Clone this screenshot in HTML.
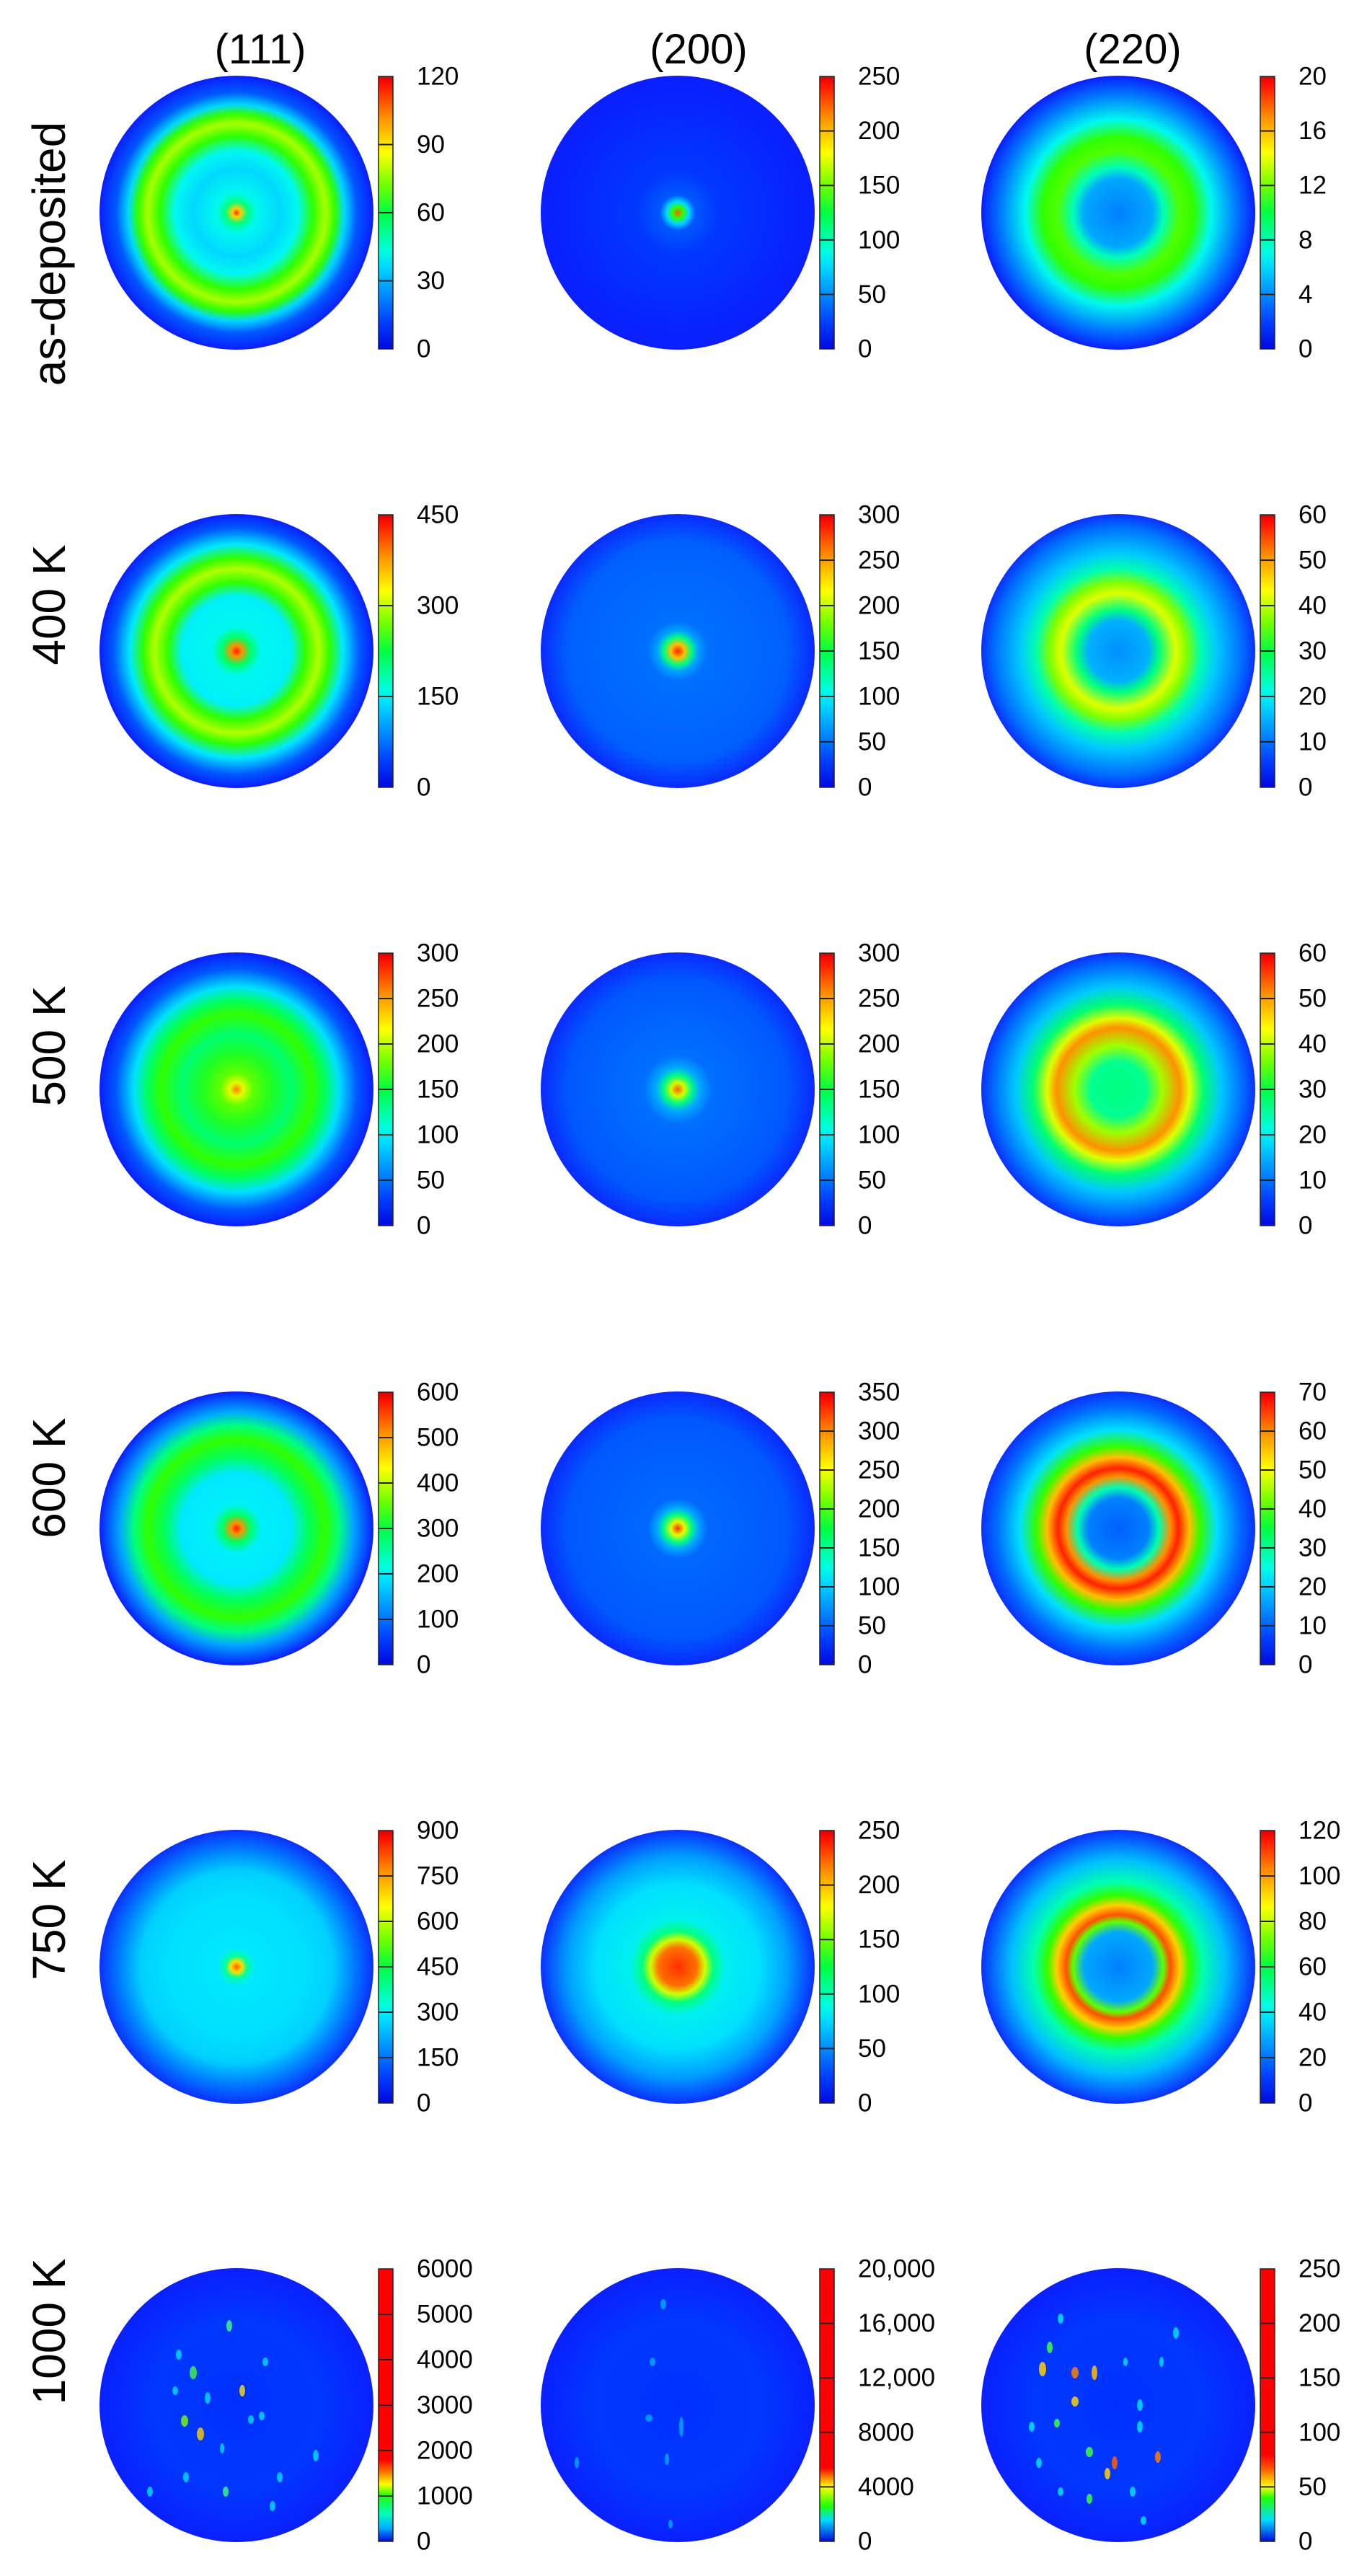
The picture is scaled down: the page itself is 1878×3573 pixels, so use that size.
<!DOCTYPE html>
<html><head><meta charset="utf-8"><style>
html,body{margin:0;padding:0;background:#fff}
svg{display:block}
text{font-family:"Liberation Sans",Arial,sans-serif;fill:#000}
.t{font-size:58px;text-anchor:middle}
.r{font-size:64px;text-anchor:middle;dominant-baseline:central}
.l{font-size:35px;dominant-baseline:central}
.bar{stroke:#222;stroke-width:1.5}
.tk{stroke:#222;stroke-width:2}
</style></head><body>
<svg width="1878" height="3573" viewBox="0 0 1878 3573" xmlns="http://www.w3.org/2000/svg">
<defs>
<linearGradient id="cb" x1="0" y1="1" x2="0" y2="0">
<stop offset="0" stop-color="#0008e0"/><stop offset="0.1" stop-color="#0040ff"/><stop offset="0.3" stop-color="#00d8ff"/><stop offset="0.36" stop-color="#00ffe0"/><stop offset="0.5" stop-color="#00ff40"/><stop offset="0.6" stop-color="#70ff00"/><stop offset="0.72" stop-color="#ffff00"/><stop offset="0.85" stop-color="#ff9000"/><stop offset="0.97" stop-color="#ff1000"/><stop offset="1" stop-color="#e00000"/>
</linearGradient>
<linearGradient id="cb61" x1="0" y1="1" x2="0" y2="0">
<stop offset="0" stop-color="#0008e0"/><stop offset="0.05" stop-color="#00b0ff"/><stop offset="0.1" stop-color="#00ffc0"/><stop offset="0.17" stop-color="#20ff00"/><stop offset="0.21" stop-color="#ffff00"/><stop offset="0.25" stop-color="#ff8000"/><stop offset="0.3" stop-color="#ff0000"/><stop offset="1" stop-color="#ff0000"/>
</linearGradient>
<linearGradient id="cb62" x1="0" y1="1" x2="0" y2="0">
<stop offset="0" stop-color="#0008e0"/><stop offset="0.08" stop-color="#00e0ff"/><stop offset="0.13" stop-color="#20ff00"/><stop offset="0.2" stop-color="#ffff00"/><stop offset="0.27" stop-color="#ff0000"/><stop offset="1" stop-color="#ff0000"/>
</linearGradient>
<linearGradient id="cb63" x1="0" y1="1" x2="0" y2="0">
<stop offset="0" stop-color="#0008e0"/><stop offset="0.08" stop-color="#00e0ff"/><stop offset="0.16" stop-color="#20ff00"/><stop offset="0.2" stop-color="#ffff00"/><stop offset="0.27" stop-color="#ff5000"/><stop offset="0.32" stop-color="#ff0000"/><stop offset="1" stop-color="#ff0000"/>
</linearGradient>

<radialGradient id="g11"><stop offset="0" stop-color="#ff3000"/><stop offset="0.03" stop-color="#ffd000"/><stop offset="0.08" stop-color="#00ff80"/><stop offset="0.15" stop-color="#00f8f0"/><stop offset="0.32" stop-color="#00d8ff"/><stop offset="0.45" stop-color="#00f8f0"/><stop offset="0.56" stop-color="#30ff00"/><stop offset="0.65" stop-color="#a8ff00"/><stop offset="0.72" stop-color="#30ff00"/><stop offset="0.79" stop-color="#00d8ff"/><stop offset="0.88" stop-color="#0058ff"/><stop offset="1" stop-color="#0a1eff"/></radialGradient>
<radialGradient id="g12"><stop offset="0" stop-color="#ff6000"/><stop offset="0.04" stop-color="#30ff00"/><stop offset="0.08" stop-color="#00d8ff"/><stop offset="0.13" stop-color="#0058ff"/><stop offset="0.3" stop-color="#0038ff"/><stop offset="1" stop-color="#0a1eff"/></radialGradient>
<radialGradient id="g13"><stop offset="0" stop-color="#0080ff"/><stop offset="0.25" stop-color="#00a8ff"/><stop offset="0.33" stop-color="#00ffb8"/><stop offset="0.45" stop-color="#50ff00"/><stop offset="0.55" stop-color="#30ff00"/><stop offset="0.68" stop-color="#00f8f0"/><stop offset="0.85" stop-color="#0080ff"/><stop offset="1" stop-color="#0a1eff"/></radialGradient>

<radialGradient id="g21"><stop offset="0" stop-color="#ff2000"/><stop offset="0.04" stop-color="#ff9000"/><stop offset="0.1" stop-color="#00ff60"/><stop offset="0.18" stop-color="#00f8f0"/><stop offset="0.4" stop-color="#00f0f8"/><stop offset="0.5" stop-color="#30ff00"/><stop offset="0.6" stop-color="#b0ff00"/><stop offset="0.68" stop-color="#30ff00"/><stop offset="0.78" stop-color="#00e8ff"/><stop offset="0.9" stop-color="#0058ff"/><stop offset="1" stop-color="#0a1eff"/></radialGradient>
<radialGradient id="g22"><stop offset="0" stop-color="#ff2000"/><stop offset="0.05" stop-color="#ffc000"/><stop offset="0.1" stop-color="#00ff80"/><stop offset="0.15" stop-color="#00a0ff"/><stop offset="0.22" stop-color="#0070ff"/><stop offset="0.8" stop-color="#0060ff"/><stop offset="1" stop-color="#0a2aff"/></radialGradient>
<radialGradient id="g23"><stop offset="0" stop-color="#0090ff"/><stop offset="0.22" stop-color="#00b0ff"/><stop offset="0.3" stop-color="#00ff80"/><stop offset="0.42" stop-color="#e0ff00"/><stop offset="0.5" stop-color="#80ff00"/><stop offset="0.6" stop-color="#00ffb0"/><stop offset="0.72" stop-color="#00c8ff"/><stop offset="0.9" stop-color="#0070ff"/><stop offset="1" stop-color="#0a30ff"/></radialGradient>

<radialGradient id="g31"><stop offset="0" stop-color="#ff8000"/><stop offset="0.05" stop-color="#e0ff00"/><stop offset="0.12" stop-color="#60ff00"/><stop offset="0.25" stop-color="#20ff20"/><stop offset="0.4" stop-color="#00ff70"/><stop offset="0.55" stop-color="#30ff00"/><stop offset="0.65" stop-color="#00ff60"/><stop offset="0.75" stop-color="#00e0ff"/><stop offset="0.88" stop-color="#0058ff"/><stop offset="1" stop-color="#0a1eff"/></radialGradient>
<radialGradient id="g32"><stop offset="0" stop-color="#ff6000"/><stop offset="0.05" stop-color="#d0ff00"/><stop offset="0.1" stop-color="#00ff80"/><stop offset="0.16" stop-color="#00a8ff"/><stop offset="0.25" stop-color="#0070ff"/><stop offset="0.8" stop-color="#0058ff"/><stop offset="1" stop-color="#0a2aff"/></radialGradient>
<radialGradient id="g33"><stop offset="0" stop-color="#00ff80"/><stop offset="0.2" stop-color="#00ff90"/><stop offset="0.32" stop-color="#a0ff00"/><stop offset="0.45" stop-color="#ff9000"/><stop offset="0.52" stop-color="#e0ff00"/><stop offset="0.62" stop-color="#00ff70"/><stop offset="0.75" stop-color="#00c8ff"/><stop offset="0.9" stop-color="#0070ff"/><stop offset="1" stop-color="#0a30ff"/></radialGradient>

<radialGradient id="g41"><stop offset="0" stop-color="#ff2000"/><stop offset="0.04" stop-color="#ff9000"/><stop offset="0.1" stop-color="#00ff60"/><stop offset="0.18" stop-color="#00f0f8"/><stop offset="0.4" stop-color="#00e8ff"/><stop offset="0.52" stop-color="#00ff60"/><stop offset="0.65" stop-color="#30ff00"/><stop offset="0.75" stop-color="#00ff80"/><stop offset="0.85" stop-color="#00a8ff"/><stop offset="1" stop-color="#0a1eff"/></radialGradient>
<radialGradient id="g42"><stop offset="0" stop-color="#ff3000"/><stop offset="0.05" stop-color="#e0ff00"/><stop offset="0.1" stop-color="#00ff80"/><stop offset="0.15" stop-color="#00a8ff"/><stop offset="0.22" stop-color="#0068ff"/><stop offset="0.8" stop-color="#0058ff"/><stop offset="1" stop-color="#0a2aff"/></radialGradient>
<radialGradient id="g43"><stop offset="0" stop-color="#0060ff"/><stop offset="0.22" stop-color="#0080ff"/><stop offset="0.3" stop-color="#00ffb0"/><stop offset="0.38" stop-color="#ff9000"/><stop offset="0.44" stop-color="#ff2000"/><stop offset="0.52" stop-color="#ffc000"/><stop offset="0.6" stop-color="#30ff00"/><stop offset="0.72" stop-color="#00e0ff"/><stop offset="0.88" stop-color="#0070ff"/><stop offset="1" stop-color="#0a30ff"/></radialGradient>

<radialGradient id="g51"><stop offset="0" stop-color="#ff6000"/><stop offset="0.04" stop-color="#ffe000"/><stop offset="0.08" stop-color="#00ffa0"/><stop offset="0.14" stop-color="#00e8ff"/><stop offset="0.5" stop-color="#00e0ff"/><stop offset="0.7" stop-color="#00d0ff"/><stop offset="0.85" stop-color="#0080ff"/><stop offset="1" stop-color="#0a30ff"/></radialGradient>
<radialGradient id="g52"><stop offset="0" stop-color="#ff3000"/><stop offset="0.14" stop-color="#ff7000"/><stop offset="0.2" stop-color="#d0ff00"/><stop offset="0.26" stop-color="#00ff80"/><stop offset="0.35" stop-color="#00f0f0"/><stop offset="0.6" stop-color="#00e0ff"/><stop offset="0.8" stop-color="#00a0ff"/><stop offset="1" stop-color="#0a30ff"/></radialGradient>
<radialGradient id="g53"><stop offset="0" stop-color="#0080ff"/><stop offset="0.25" stop-color="#00a8ff"/><stop offset="0.33" stop-color="#60ff00"/><stop offset="0.38" stop-color="#ff5000"/><stop offset="0.45" stop-color="#ffd000"/><stop offset="0.52" stop-color="#30ff00"/><stop offset="0.62" stop-color="#00ffb0"/><stop offset="0.78" stop-color="#00c0ff"/><stop offset="1" stop-color="#0a30ff"/></radialGradient>

<radialGradient id="g6"><stop offset="0" stop-color="#0030ff"/><stop offset="0.6" stop-color="#0038ff"/><stop offset="1" stop-color="#0a20ff"/></radialGradient>
</defs>

<rect width="1878" height="3573" fill="#fff"/>

<text class="t" x="361" y="88">(111)</text>
<text class="t" x="969" y="88">(200)</text>
<text class="t" x="1571" y="88">(220)</text>

<text class="r" transform="translate(68,352) rotate(-90)">as-deposited</text>
<text class="r" transform="translate(68,839) rotate(-90)">400 K</text>
<text class="r" transform="translate(68,1451) rotate(-90)">500 K</text>
<text class="r" transform="translate(68,2050) rotate(-90)">600 K</text>
<text class="r" transform="translate(68,2663) rotate(-90)">750 K</text>
<text class="r" transform="translate(68,3234) rotate(-90)">1000 K</text>

<!-- Row 1 -->
<g transform="translate(328,295)"><circle r="190" fill="url(#g11)"/>
<rect class="bar" x="197" y="-189" width="20" height="378" fill="url(#cb)"/>
<path class="tk" d="M197 94.5h20M197 0h20M197 -94.5h20"/>
<text class="l" x="250" y="189">0</text><text class="l" x="250" y="94.5">30</text><text class="l" x="250" y="0">60</text><text class="l" x="250" y="-94.5">90</text><text class="l" x="250" y="-189">120</text></g>
<g transform="translate(940,295)"><circle r="190" fill="url(#g12)"/>
<rect class="bar" x="197" y="-189" width="20" height="378" fill="url(#cb)"/>
<path class="tk" d="M197 113.4h20M197 37.8h20M197 -37.8h20M197 -113.4h20"/>
<text class="l" x="250" y="189">0</text><text class="l" x="250" y="113.4">50</text><text class="l" x="250" y="37.8">100</text><text class="l" x="250" y="-37.8">150</text><text class="l" x="250" y="-113.4">200</text><text class="l" x="250" y="-189">250</text></g>
<g transform="translate(1551,295)"><circle r="190" fill="url(#g13)"/>
<rect class="bar" x="197" y="-189" width="20" height="378" fill="url(#cb)"/>
<path class="tk" d="M197 113.4h20M197 37.8h20M197 -37.8h20M197 -113.4h20"/>
<text class="l" x="250" y="189">0</text><text class="l" x="250" y="113.4">4</text><text class="l" x="250" y="37.8">8</text><text class="l" x="250" y="-37.8">12</text><text class="l" x="250" y="-113.4">16</text><text class="l" x="250" y="-189">20</text></g>

<!-- Row 2 -->
<g transform="translate(328,903)"><circle r="190" fill="url(#g21)"/>
<rect class="bar" x="197" y="-189" width="20" height="378" fill="url(#cb)"/>
<path class="tk" d="M197 63h20M197 -63h20"/>
<text class="l" x="250" y="189">0</text><text class="l" x="250" y="63">150</text><text class="l" x="250" y="-63">300</text><text class="l" x="250" y="-189">450</text></g>
<g transform="translate(940,903)"><circle r="190" fill="url(#g22)"/>
<rect class="bar" x="197" y="-189" width="20" height="378" fill="url(#cb)"/>
<path class="tk" d="M197 126h20M197 63h20M197 0h20M197 -63h20M197 -126h20"/>
<text class="l" x="250" y="189">0</text><text class="l" x="250" y="126">50</text><text class="l" x="250" y="63">100</text><text class="l" x="250" y="0">150</text><text class="l" x="250" y="-63">200</text><text class="l" x="250" y="-126">250</text><text class="l" x="250" y="-189">300</text></g>
<g transform="translate(1551,903)"><circle r="190" fill="url(#g23)"/>
<rect class="bar" x="197" y="-189" width="20" height="378" fill="url(#cb)"/>
<path class="tk" d="M197 126h20M197 63h20M197 0h20M197 -63h20M197 -126h20"/>
<text class="l" x="250" y="189">0</text><text class="l" x="250" y="126">10</text><text class="l" x="250" y="63">20</text><text class="l" x="250" y="0">30</text><text class="l" x="250" y="-63">40</text><text class="l" x="250" y="-126">50</text><text class="l" x="250" y="-189">60</text></g>

<!-- Row 3 -->
<g transform="translate(328,1511)"><circle r="190" fill="url(#g31)"/>
<rect class="bar" x="197" y="-189" width="20" height="378" fill="url(#cb)"/>
<path class="tk" d="M197 126h20M197 63h20M197 0h20M197 -63h20M197 -126h20"/>
<text class="l" x="250" y="189">0</text><text class="l" x="250" y="126">50</text><text class="l" x="250" y="63">100</text><text class="l" x="250" y="0">150</text><text class="l" x="250" y="-63">200</text><text class="l" x="250" y="-126">250</text><text class="l" x="250" y="-189">300</text></g>
<g transform="translate(940,1511)"><circle r="190" fill="url(#g32)"/>
<rect class="bar" x="197" y="-189" width="20" height="378" fill="url(#cb)"/>
<path class="tk" d="M197 126h20M197 63h20M197 0h20M197 -63h20M197 -126h20"/>
<text class="l" x="250" y="189">0</text><text class="l" x="250" y="126">50</text><text class="l" x="250" y="63">100</text><text class="l" x="250" y="0">150</text><text class="l" x="250" y="-63">200</text><text class="l" x="250" y="-126">250</text><text class="l" x="250" y="-189">300</text></g>
<g transform="translate(1551,1511)"><circle r="190" fill="url(#g33)"/>
<rect class="bar" x="197" y="-189" width="20" height="378" fill="url(#cb)"/>
<path class="tk" d="M197 126h20M197 63h20M197 0h20M197 -63h20M197 -126h20"/>
<text class="l" x="250" y="189">0</text><text class="l" x="250" y="126">10</text><text class="l" x="250" y="63">20</text><text class="l" x="250" y="0">30</text><text class="l" x="250" y="-63">40</text><text class="l" x="250" y="-126">50</text><text class="l" x="250" y="-189">60</text></g>

<!-- Row 4 -->
<g transform="translate(328,2120)"><circle r="190" fill="url(#g41)"/>
<rect class="bar" x="197" y="-189" width="20" height="378" fill="url(#cb)"/>
<path class="tk" d="M197 126h20M197 63h20M197 0h20M197 -63h20M197 -126h20"/>
<text class="l" x="250" y="189">0</text><text class="l" x="250" y="126">100</text><text class="l" x="250" y="63">200</text><text class="l" x="250" y="0">300</text><text class="l" x="250" y="-63">400</text><text class="l" x="250" y="-126">500</text><text class="l" x="250" y="-189">600</text></g>
<g transform="translate(940,2120)"><circle r="190" fill="url(#g42)"/>
<rect class="bar" x="197" y="-189" width="20" height="378" fill="url(#cb)"/>
<path class="tk" d="M197 135h20M197 81h20M197 27h20M197 -27h20M197 -81h20M197 -135h20"/>
<text class="l" x="250" y="189">0</text><text class="l" x="250" y="135">50</text><text class="l" x="250" y="81">100</text><text class="l" x="250" y="27">150</text><text class="l" x="250" y="-27">200</text><text class="l" x="250" y="-81">250</text><text class="l" x="250" y="-135">300</text><text class="l" x="250" y="-189">350</text></g>
<g transform="translate(1551,2120)"><circle r="190" fill="url(#g43)"/>
<rect class="bar" x="197" y="-189" width="20" height="378" fill="url(#cb)"/>
<path class="tk" d="M197 135h20M197 81h20M197 27h20M197 -27h20M197 -81h20M197 -135h20"/>
<text class="l" x="250" y="189">0</text><text class="l" x="250" y="135">10</text><text class="l" x="250" y="81">20</text><text class="l" x="250" y="27">30</text><text class="l" x="250" y="-27">40</text><text class="l" x="250" y="-81">50</text><text class="l" x="250" y="-135">60</text><text class="l" x="250" y="-189">70</text></g>

<!-- Row 5 -->
<g transform="translate(328,2728)"><circle r="190" fill="url(#g51)"/>
<rect class="bar" x="197" y="-189" width="20" height="378" fill="url(#cb)"/>
<path class="tk" d="M197 126h20M197 63h20M197 0h20M197 -63h20M197 -126h20"/>
<text class="l" x="250" y="189">0</text><text class="l" x="250" y="126">150</text><text class="l" x="250" y="63">300</text><text class="l" x="250" y="0">450</text><text class="l" x="250" y="-63">600</text><text class="l" x="250" y="-126">750</text><text class="l" x="250" y="-189">900</text></g>
<g transform="translate(940,2728)"><circle r="190" fill="url(#g52)"/>
<rect class="bar" x="197" y="-189" width="20" height="378" fill="url(#cb)"/>
<path class="tk" d="M197 113.4h20M197 37.8h20M197 -37.8h20M197 -113.4h20"/>
<text class="l" x="250" y="189">0</text><text class="l" x="250" y="113.4">50</text><text class="l" x="250" y="37.8">100</text><text class="l" x="250" y="-37.8">150</text><text class="l" x="250" y="-113.4">200</text><text class="l" x="250" y="-189">250</text></g>
<g transform="translate(1551,2728)"><circle r="190" fill="url(#g53)"/>
<rect class="bar" x="197" y="-189" width="20" height="378" fill="url(#cb)"/>
<path class="tk" d="M197 126h20M197 63h20M197 0h20M197 -63h20M197 -126h20"/>
<text class="l" x="250" y="189">0</text><text class="l" x="250" y="126">20</text><text class="l" x="250" y="63">40</text><text class="l" x="250" y="0">60</text><text class="l" x="250" y="-63">80</text><text class="l" x="250" y="-126">100</text><text class="l" x="250" y="-189">120</text></g>

<!-- Row 6 -->
<g transform="translate(328,3336)"><circle r="190" fill="url(#g6)"/>
<g fill="#00e0ff" opacity="0.8">
<ellipse cx="-60" cy="-45" rx="5" ry="9" fill="#40ff40"/><ellipse cx="-40" cy="-10" rx="4" ry="8"/><ellipse cx="-72" cy="22" rx="5" ry="8" fill="#80ff00"/><ellipse cx="-50" cy="40" rx="5" ry="9" fill="#ffd000"/><ellipse cx="8" cy="-20" rx="4" ry="8" fill="#ffe000"/><ellipse cx="20" cy="20" rx="4" ry="6"/><ellipse cx="-80" cy="-70" rx="4" ry="7"/><ellipse cx="-10" cy="-110" rx="4" ry="8" fill="#40ff80"/><ellipse cx="40" cy="-60" rx="4" ry="6"/><ellipse cx="-70" cy="100" rx="4" ry="7"/><ellipse cx="-120" cy="120" rx="4" ry="7"/><ellipse cx="-15" cy="120" rx="4" ry="7" fill="#40ff80"/><ellipse cx="60" cy="100" rx="4" ry="7"/><ellipse cx="110" cy="70" rx="4" ry="8"/><ellipse cx="35" cy="15" rx="4" ry="6"/><ellipse cx="-85" cy="-20" rx="4" ry="6"/><ellipse cx="-20" cy="60" rx="3" ry="7"/><ellipse cx="50" cy="140" rx="4" ry="7"/></g>
<rect class="bar" x="197" y="-189" width="20" height="378" fill="url(#cb61)"/>
<path class="tk" d="M197 126h20M197 63h20M197 0h20M197 -63h20M197 -126h20"/>
<text class="l" x="250" y="189">0</text><text class="l" x="250" y="126">1000</text><text class="l" x="250" y="63">2000</text><text class="l" x="250" y="0">3000</text><text class="l" x="250" y="-63">4000</text><text class="l" x="250" y="-126">5000</text><text class="l" x="250" y="-189">6000</text></g>
<g transform="translate(940,3336)"><circle r="190" fill="url(#g6)"/>
<g fill="#00c0ff" opacity="0.7">
<ellipse cx="-20" cy="-140" rx="4" ry="7"/><ellipse cx="-35" cy="-60" rx="4" ry="6"/><ellipse cx="-40" cy="18" rx="5" ry="5"/><ellipse cx="5" cy="30" rx="3" ry="14"/><ellipse cx="-15" cy="75" rx="3" ry="8"/><ellipse cx="-10" cy="165" rx="3" ry="6"/><ellipse cx="-140" cy="80" rx="3" ry="8"/></g>
<rect class="bar" x="197" y="-189" width="20" height="378" fill="url(#cb62)"/>
<path class="tk" d="M197 113.4h20M197 37.8h20M197 -37.8h20M197 -113.4h20"/>
<text class="l" x="250" y="189">0</text><text class="l" x="250" y="113.4">4000</text><text class="l" x="250" y="37.8">8000</text><text class="l" x="250" y="-37.8">12,000</text><text class="l" x="250" y="-113.4">16,000</text><text class="l" x="250" y="-189">20,000</text></g>
<g transform="translate(1551,3336)"><circle r="190" fill="url(#g6)"/>
<g fill="#00e0ff" opacity="0.85">
<ellipse cx="-105" cy="-50" rx="5" ry="10" fill="#ffd000"/><ellipse cx="-60" cy="-45" rx="5" ry="8" fill="#ff8000"/><ellipse cx="-33" cy="-45" rx="4" ry="10" fill="#ffc000"/><ellipse cx="-95" cy="-80" rx="4" ry="8" fill="#40ff40"/><ellipse cx="-60" cy="-5" rx="5" ry="7" fill="#ffd000"/><ellipse cx="-85" cy="25" rx="4" ry="6" fill="#40ff40"/><ellipse cx="-40" cy="65" rx="5" ry="7" fill="#40ff40"/><ellipse cx="-5" cy="80" rx="4" ry="9" fill="#ff6000"/><ellipse cx="55" cy="72" rx="4" ry="8" fill="#ff8000"/><ellipse cx="-15" cy="95" rx="4" ry="8" fill="#ffd000"/><ellipse cx="30" cy="30" rx="4" ry="8"/><ellipse cx="30" cy="0" rx="4" ry="8"/><ellipse cx="80" cy="-100" rx="4" ry="8"/><ellipse cx="-80" cy="120" rx="4" ry="6"/><ellipse cx="-40" cy="130" rx="4" ry="7" fill="#40ff40"/><ellipse cx="20" cy="120" rx="4" ry="7"/><ellipse cx="35" cy="160" rx="4" ry="6"/><ellipse cx="-120" cy="30" rx="4" ry="7"/><ellipse cx="-110" cy="80" rx="4" ry="7"/><ellipse cx="-80" cy="-120" rx="4" ry="7"/><ellipse cx="10" cy="-60" rx="3" ry="6"/><ellipse cx="60" cy="-60" rx="3" ry="7"/></g>
<rect class="bar" x="197" y="-189" width="20" height="378" fill="url(#cb63)"/>
<path class="tk" d="M197 113.4h20M197 37.8h20M197 -37.8h20M197 -113.4h20"/>
<text class="l" x="250" y="189">0</text><text class="l" x="250" y="113.4">50</text><text class="l" x="250" y="37.8">100</text><text class="l" x="250" y="-37.8">150</text><text class="l" x="250" y="-113.4">200</text><text class="l" x="250" y="-189">250</text></g>
</svg>
</body></html>
